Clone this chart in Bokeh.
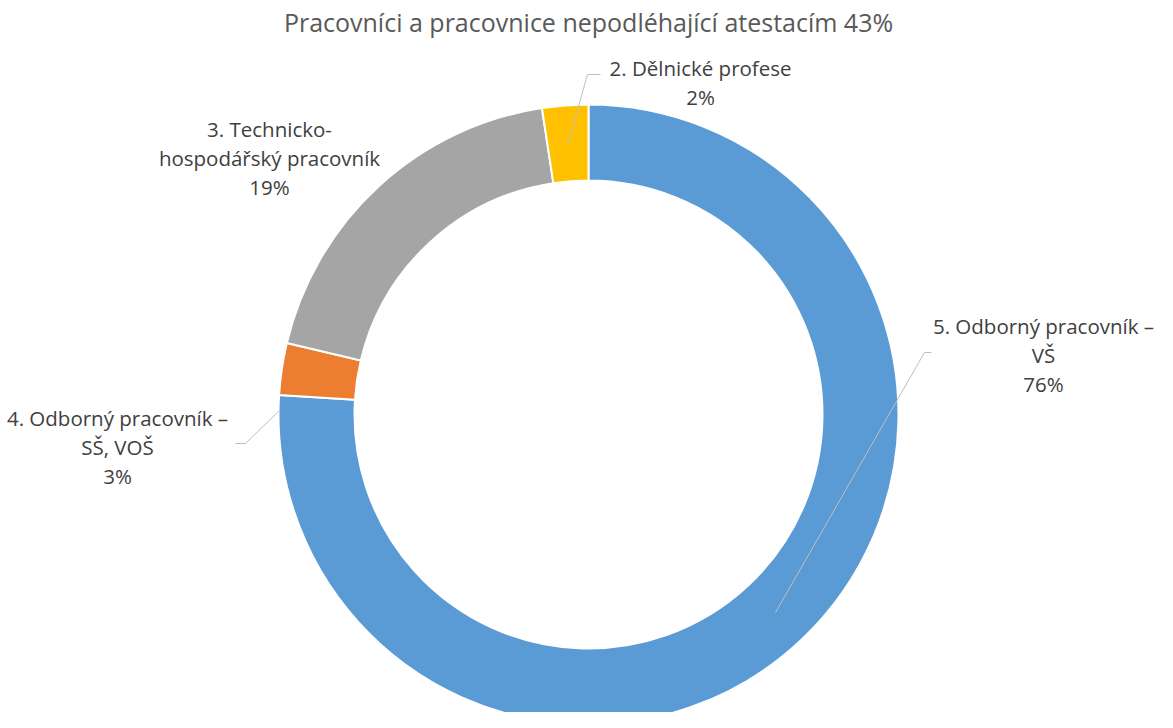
import numpy as np
from bokeh.plotting import figure
from bokeh.models import Range1d
from bokeh.core.properties import value
from bokeh.embed import file_html
from bokeh.resources import INLINE

# ---- data ----
title_text = "Pracovníci a pracovnice nepodléhající atestacím 43%"
categories = ["5. Odborný pracovník –\nVŠ",
              "4. Odborný pracovník –\nSŠ, VOŠ",
              "3. Technicko-\nhospodářský pracovník",
              "2. Dělnické profese"]
shares = [76.0, 2.7, 18.9, 2.4]
colors = ["#5B9BD5", "#ED7D31", "#A5A5A5", "#FFC000"]

FONT = "Open Sans"
W, H = 1157, 712

def Y(sy):
    return 728 - sy

p = figure(width=W, height=H, output_backend="svg", toolbar_location=None,
           x_range=Range1d(8, 8 + W), y_range=Range1d(Y(720), Y(8)),
           min_border=0, outline_line_color=None)
p.axis.visible = False
p.grid.visible = False
p.background_fill_color = "white"
p.border_fill_color = "white"

# ---- donut ----
cx, cy = 596, Y(422)
r_out, r_in = 310, 234
vals = np.array(shares, dtype=float)
frac = vals / vals.sum()
cum = np.concatenate([[0], np.cumsum(frac)])
starts = np.pi / 2 - 2 * np.pi * cum[:-1]
ends = np.pi / 2 - 2 * np.pi * cum[1:]
p.annular_wedge(x=cx, y=cy, inner_radius=r_in, outer_radius=r_out,
                start_angle=starts, end_angle=ends, direction="clock",
                fill_color=colors, line_color="white", line_width=2)

# ---- leader lines ----
leaders_x = [[783, 932, 939], [243, 253, 287], [575, 595, 608]]
leaders_y = [[Y(620), Y(360), Y(360)], [Y(451), Y(451), Y(418)], [Y(153), Y(82), Y(82)]]
p.multi_line(xs=leaders_x, ys=leaders_y, line_color="#BFBFBF", line_width=1)

# ---- labels ----
label_pos = [(1051, 333), (125, 425), (277, 136), (708, 75)]
line_gap = 29
pct = [f"{round(v)}%" for v in vals]
lx, ly, lt = [], [], []
for (x0, y0), cat, pc in zip(label_pos, categories, pct):
    lines = cat.split("\n") + [pc]
    for i, t in enumerate(lines):
        lx.append(x0)
        ly.append(Y(y0 + i * line_gap))
        lt.append(t)
p.text(x=lx, y=ly, text=lt, text_align="center", text_baseline="middle",
       text_font=value(FONT), text_font_size="20.5px", text_color="#404040")

p.text(x=[596], y=[Y(29)], text=[title_text], text_align="center",
       text_baseline="middle", text_font=value(FONT), text_font_size="25px",
       text_color="#595959")

open("out.html", "w").write(file_html(p, INLINE))
